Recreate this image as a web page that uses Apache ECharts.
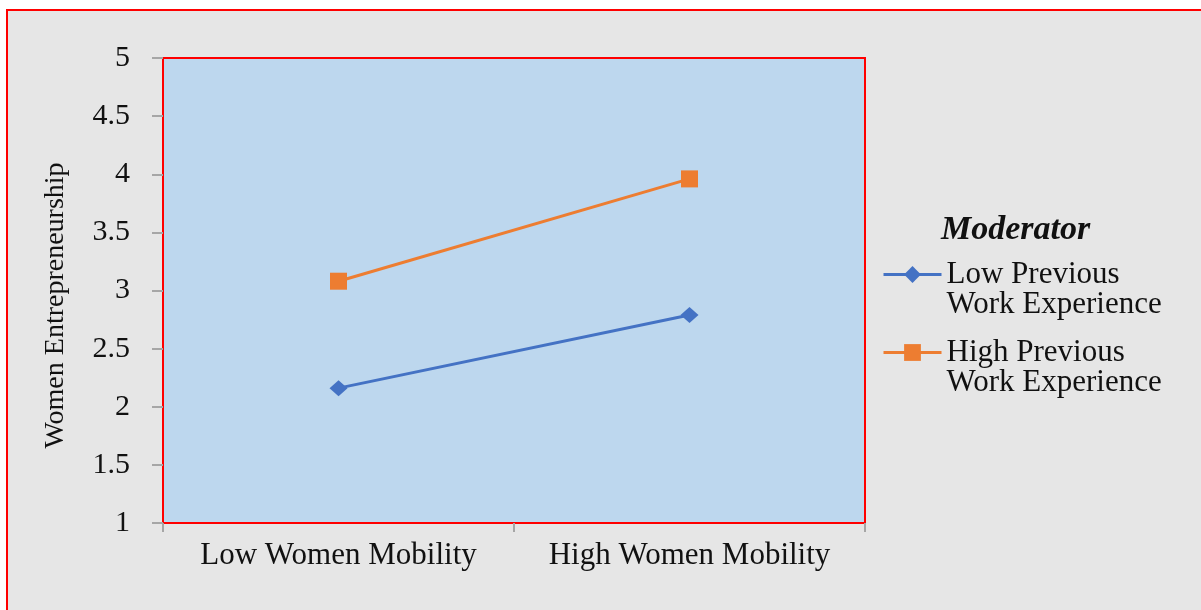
<!DOCTYPE html>
<html>
<head>
<meta charset="utf-8">
<script src="https://cdn.jsdelivr.net/npm/echarts@6/dist/echarts.min.js"></script>
<style>
html,body{margin:0;padding:0;background:#fff;}
#chart{width:1201px;height:610px;}
</style>
</head>
<body>
<div id="chart"></div>
<script>
const categories = ['Low Women Mobility', 'High Women Mobility']
const lowExperience = [2.16, 2.79]
const highExperience = [3.08, 3.96]
const seriesNames = ['Low Previous\nWork Experience', 'High Previous\nWork Experience']

const serif = '"Liberation Serif", "Times New Roman", serif'
const chart = echarts.init(document.getElementById('chart'))

const option = {
    backgroundColor: '#fff',
    animation: false,
    graphic: [{
        type: 'rect',
        z: -10,
        shape: { x: 7, y: 10, width: 1220, height: 630 },
        style: { fill: '#e6e6e6', stroke: '#ff0000', lineWidth: 2 }
    }],
    title: {
        text: 'Moderator',
        left: 941,
        top: 213,
        padding: 0,
        textStyle: {
            fontFamily: serif,
            fontStyle: 'italic',
            fontWeight: 'bold',
            fontSize: 34,
            color: '#111'
        }
    },
    grid: {
        left: 163,
        top: 58,
        right: 336,
        bottom: 87,
        show: true,
        backgroundColor: '#bdd7ee',
        borderColor: '#ff0000',
        borderWidth: 2
    },
    legend: {
        orient: 'vertical',
        left: 882,
        top: 229,
        padding: 0,
        itemWidth: 58,
        itemHeight: 21,
        itemGap: -13,
        data: seriesNames,
        lineStyle: { width: 3 },
        // blank first line so the symbol sits beside the first text line
        formatter: name => '\n' + name,
        textStyle: {
            fontFamily: serif,
            fontSize: 31,
            lineHeight: 30,
            color: '#111'
        }
    },
    xAxis: {
        type: 'category',
        data: categories,
        axisLine: { show: false },
        axisTick: { show: true, interval: 0, length: 9, lineStyle: { color: '#a6a6a6', width: 2 } },
        axisLabel: {
            interval: 0,
            margin: 17,
            fontFamily: serif,
            fontSize: 31,
            color: '#111'
        }
    },
    yAxis: {
        type: 'value',
        min: 1,
        max: 5,
        interval: 0.5,
        name: 'Women Entrepreneurship',
        nameLocation: 'middle',
        nameGap: 93,
        nameTextStyle: {
            fontFamily: serif,
            fontSize: 28,
            color: '#111',
            padding: [0, 30, 0, 0]
        },
        axisLine: { show: false },
        axisTick: { show: true, length: 11, lineStyle: { color: '#a6a6a6', width: 2 } },
        splitLine: { show: false },
        axisLabel: {
            margin: 33,
            fontFamily: serif,
            fontSize: 30,
            color: '#111'
        }
    },
    series: [
        {
            name: seriesNames[0],
            type: 'line',
            data: lowExperience,
            symbol: 'diamond',
            symbolSize: [18, 16],
            lineStyle: { color: '#4472c4', width: 3 },
            itemStyle: { color: '#4472c4' }
        },
        {
            name: seriesNames[1],
            type: 'line',
            data: highExperience,
            symbol: 'rect',
            symbolSize: 17,
            lineStyle: { color: '#ed7d31', width: 3 },
            itemStyle: { color: '#ed7d31' }
        }
    ]
}

chart.setOption(option)
</script>
</body>
</html>
